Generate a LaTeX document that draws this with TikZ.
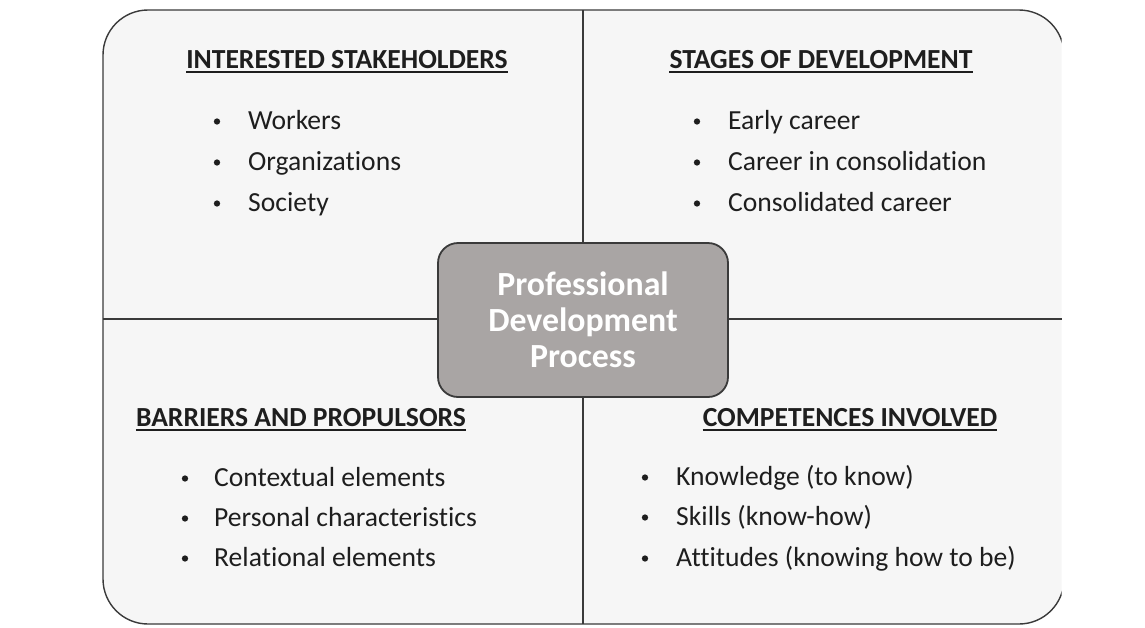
\documentclass[tikz,border=0pt]{standalone}
\usepackage{fontspec}
\setmainfont{Carlito}[Ligatures={NoCommon}]
\definecolor{linegray}{HTML}{3A3A3A}
\definecolor{quadfill}{HTML}{F6F6F6}
\definecolor{boxgray}{HTML}{A9A5A4}
\definecolor{txt}{HTML}{1E1E1E}
\begin{document}
\begin{tikzpicture}[x=1pt,y=-1pt,
  frame/.style={draw=linegray, line width=1.4pt},
  head/.style={anchor=base, font=\fontsize{27.6}{30}\selectfont\bfseries, text=txt, inner sep=0pt},
  item/.style={anchor=base west, font=\fontsize{27.6}{30}\selectfont, text=txt, inner sep=0pt},
  bul/.style={circle, fill=txt, inner sep=0pt, minimum size=6.3pt},
  uline/.style={draw=txt, line width=1.3pt},
  core/.style={draw=linegray, line width=1.8pt, fill=boxgray, rounded corners=20pt,
    minimum width=290pt, minimum height=154pt, align=center, text=white,
    font=\fontsize{33.8}{36}\selectfont\bfseries, inner sep=0pt}]
\useasboundingbox (0,0) rectangle (1145,627);
\begin{scope}
  \clip (0,0) rectangle (1061.5,627);
  \fill[quadfill, rounded corners=45pt] (103,10) rectangle (1064,624);
  \draw[frame, rounded corners=45pt] (103,10) rectangle (1064,624);
\end{scope}
\coordinate (L) at (103,319);
\coordinate (R) at (1061.5,319);
\coordinate (T) at (583,10);
\coordinate (B) at (583,624);
\draw[frame] (L) -- (R);
\draw[frame] (T) -- (B);

\node[core] (pdp) at (583,320) {Professional\\Development\\Process};

% top left
\node[head] (h1) at (347,68) {INTERESTED STAKEHOLDERS};
\draw[uline] ([yshift=-4pt]h1.base west) -- ([yshift=-4pt]h1.base east);
\node[bul] (b11) at (217,121.5) {};
\node[item] (i11) at (248,129) {Workers};
\node[bul] (b12) at (217,162.5) {};
\node[item] (i12) at (248,170) {Organizations};
\node[bul] (b13) at (217,203.5) {};
\node[item] (i13) at (248,211) {Society};

% top right
\node[head] (h2) at (821,68) {STAGES OF DEVELOPMENT};
\draw[uline] ([yshift=-4pt]h2.base west) -- ([yshift=-4pt]h2.base east);
\node[bul] (b21) at (697,121.5) {};
\node[item] (i21) at (728,129) {Early career};
\node[bul] (b22) at (697,162.5) {};
\node[item] (i22) at (728,170) {Career in consolidation};
\node[bul] (b23) at (697,203.5) {};
\node[item] (i23) at (728,211) {Consolidated career};

% bottom left
\node[head] (h3) at (301,426) {BARRIERS AND PROPULSORS};
\draw[uline] ([yshift=-4pt]h3.base west) -- ([yshift=-4pt]h3.base east);
\node[bul] (b31) at (185,478.5) {};
\node[item] (i31) at (214,486) {Contextual elements};
\node[bul] (b32) at (185,518.5) {};
\node[item] (i32) at (214,526) {Personal characteristics};
\node[bul] (b33) at (185,558.5) {};
\node[item] (i33) at (214,566) {Relational elements};

% bottom right
\node[head] (h4) at (850,426) {COMPETENCES INVOLVED};
\draw[uline] ([yshift=-4pt]h4.base west) -- ([yshift=-4pt]h4.base east);
\node[bul] (b41) at (645,477.5) {};
\node[item] (i41) at (676,485) {Knowledge (to know)};
\node[bul] (b42) at (645,517.5) {};
\node[item] (i42) at (676,525) {Skills (know-how)};
\node[bul] (b43) at (645,558.5) {};
\node[item] (i43) at (676,566) {Attitudes (knowing how to be)};
\end{tikzpicture}
\end{document}
